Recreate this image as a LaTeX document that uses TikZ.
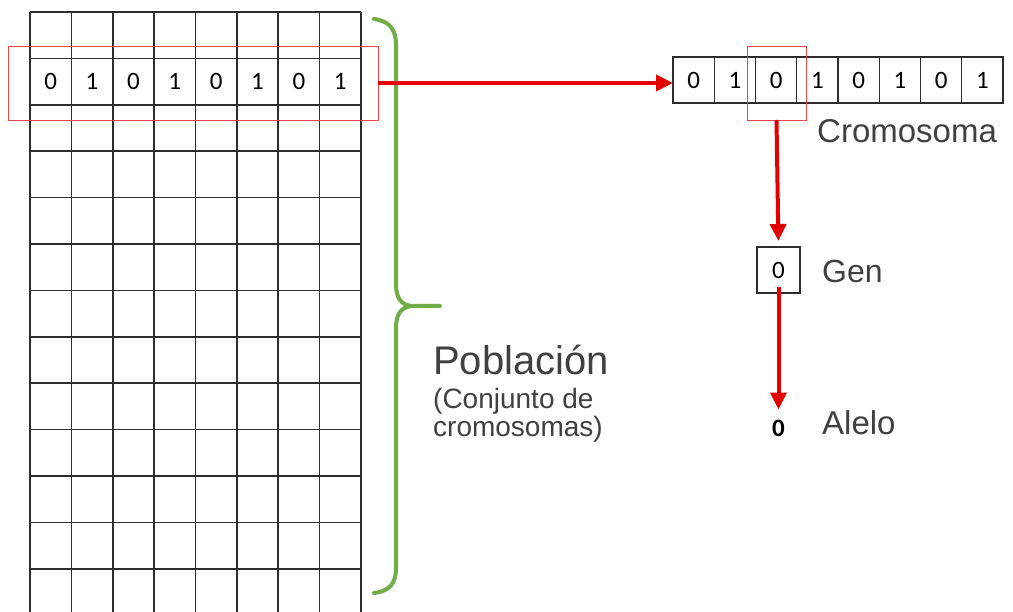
\documentclass[tikz,border=0pt]{standalone}
\usepackage{xcolor}
\usepackage{fontspec}
\setmainfont{Liberation Sans}
\newfontfamily\bitfont{Carlito}
\usepackage{tikz}
\usetikzlibrary{arrows.meta,positioning}
\definecolor{genred}{RGB}{226,0,0}
\definecolor{selred}{RGB}{232,70,70}
\definecolor{bracegreen}{RGB}{112,173,71}
\definecolor{txtgray}{RGB}{64,64,64}
\definecolor{gridgray}{RGB}{45,45,45}

\begin{document}
\begin{tikzpicture}[x=1pt, y=-1pt,
    gridline/.style={draw=gridgray, line width=1.6pt},
    bit/.style={font=\bitfont\fontsize{25}{25}\selectfont, text=black, inner sep=0pt},
    cell/.style={draw=gridgray, line width=1.2pt, minimum width=41.25pt, minimum height=46pt,
                 inner sep=0pt, outer sep=0pt, font=\bitfont\fontsize{25}{25}\selectfont},
    selbox/.style={draw=selred, line width=0.9pt, inner sep=0pt, outer sep=0pt},
    redarrow/.style={draw=genred, line width=4pt, -{Triangle[length=17pt,width=16pt]}},
    brace/.style={draw=bracegreen, line width=4pt, line cap=round},
    lbl/.style={text=txtgray, anchor=base west, inner sep=0pt}]
    \useasboundingbox (0,0) rectangle (1013,612);
    % Population grid (rows run off the bottom edge)
    \foreach \r in {0,...,12}
        \draw[gridline] (30,{12+46.4*\r}) -- (361,{12+46.4*\r});
    \foreach \c in {0,...,8}
        \draw[gridline] ({30+41.375*\c},12) -- ({30+41.375*\c},612);
    \foreach \b [count=\i from 0] in {0,1,0,1,0,1,0,1}
        \node[bit] (p\i) at ({30+41.375*(\i+0.5)},81.6) {\b};
    \node[selbox, minimum width=370pt, minimum height=74pt] (psel) at (193,83) {};
    % Brace round the population
    \draw[brace] (374,19) .. controls (390,21) and (396,30) .. (396,45) -- (396,284)
        .. controls (396,298) and (401,305) .. (412,306) -- (440,306);
    \draw[brace] (412,306) .. controls (401,307) and (396,314) .. (396,328) -- (396,568)
        .. controls (396,583) and (390,591) .. (374,593);
    \node[lbl, font=\fontsize{40}{40}\selectfont] (pob) at (433,375) {Población};
    \node[lbl, font=\fontsize{28}{28}\selectfont] (sub1) at (433,409) {(Conjunto de};
    \node[lbl, font=\fontsize{28}{28}\selectfont] (sub2) at (433,437) {cromosomas)};
    % One chromosome
    \foreach \b [count=\i from 0] in {0,1,0,1,0,1,0,1}
        \node[cell] (c\i) at ({673+41.25*(\i+0.5)},80) {\b};
    \node[selbox, minimum width=59pt, minimum height=74pt] (gsel) at (776.5,83) {};
    \node[lbl, font=\fontsize{33}{33}\selectfont] (crom) at (817,143) {Cromosoma};
    % Gene and allele
    \node[cell, minimum width=43pt] (gen) at (778.5,270) {0};
    \node[lbl, font=\fontsize{32}{32}\selectfont] (genlbl) at (822,283) {Gen};
    \node[bit, font=\bitfont\bfseries\fontsize{25}{25}\selectfont] (alelo) at (778.5,428) {0};
    \node[lbl, font=\fontsize{33}{33}\selectfont] (alelolbl) at (822,435) {Alelo};
    % Connectors
    \draw[redarrow] (psel.east) -- (psel.east -| c0.west);
    \draw[redarrow, shorten >=6pt] (gsel.south) -- (gen.north);
    \draw[redarrow, shorten <=17pt, shorten >=10pt] (gen.center) -- (alelo.north);
\end{tikzpicture}
\end{document}
